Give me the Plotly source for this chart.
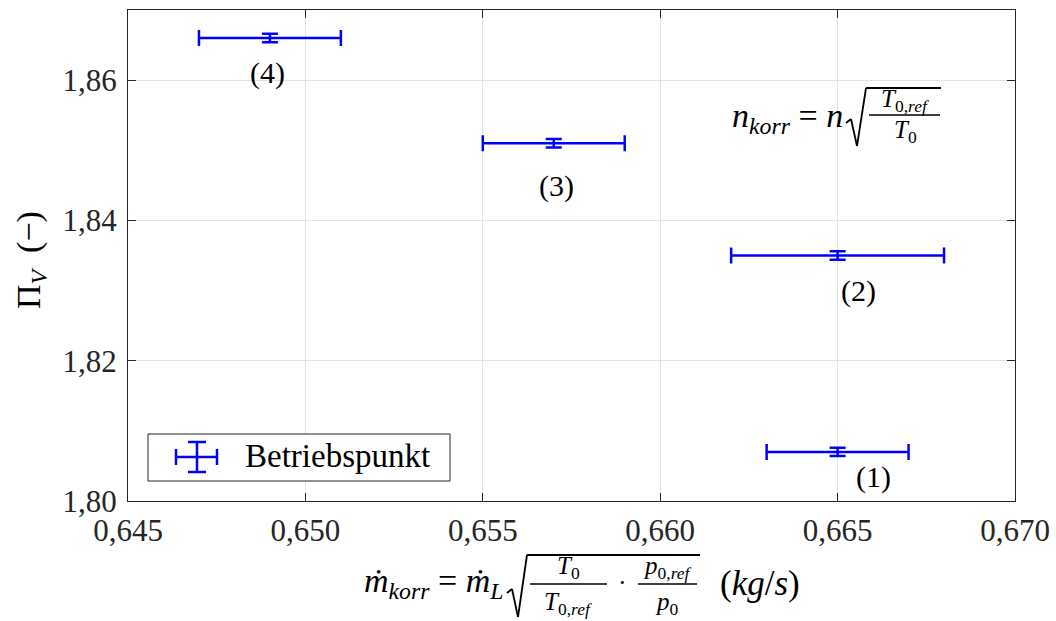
import plotly.graph_objects as go

# ---- data ----
m_korr = [0.665, 0.665, 0.657, 0.649]
pi_v = [1.807, 1.835, 1.851, 1.866]
err_m = [0.002, 0.003, 0.002, 0.002]
err_pi = [0.0006, 0.0006, 0.0006, 0.0006]
point_labels = ["(1)", "(2)", "(3)", "(4)"]
label_dx = [36, 21, 3, -2]
label_dy = [-25, -35, -43, -35]
x_ticks = [0.645, 0.650, 0.655, 0.660, 0.665, 0.670]
y_ticks = [1.80, 1.82, 1.84, 1.86]

W, H = 1056, 621
L, R, T, B = 128, 41, 10, 120
PW, PH = W - L - R, H - T - B
FONT = "'Liberation Serif', 'DejaVu Serif', serif"
BLUE = "#0000ff"
DARK = "#262626"


def px(x):
    return (x - L) / PW


def py(y):
    return (H - B - y) / PH


fig = go.Figure()
fig.add_trace(go.Scatter(
    x=m_korr, y=pi_v, mode="markers",
    marker=dict(size=1, color=BLUE, opacity=0),
    error_x=dict(type="data", array=err_m, color=BLUE, thickness=2.5, width=8),
    error_y=dict(type="data", array=err_pi, color=BLUE, thickness=2.5, width=8),
    showlegend=False, hoverinfo="x+y",
))

ann = []
for x, y, t, dx, dy in zip(m_korr, pi_v, point_labels, label_dx, label_dy):
    ann.append(dict(x=x, y=y, xref="x", yref="y", text=t, showarrow=False,
                    xshift=dx, yshift=dy, font=dict(family=FONT, size=30, color="black")))


def txt(x, y, s, size=28, anchor="center", angle=0):
    ann.append(dict(x=px(x), y=py(y), xref="paper", yref="paper", text=s, showarrow=False,
                    xanchor=anchor, yanchor="middle", textangle=angle,
                    font=dict(family=FONT, size=size, color="black")))


shapes = []


def line(x0, y0, x1, y1, w=1.6, c="black"):
    shapes.append(dict(type="line", xref="paper", yref="paper", x0=px(x0), y0=py(y0),
                       x1=px(x1), y1=py(y1), line=dict(color=c, width=w)))


def radical(x0, ymid, ybot, ytop, xend):
    pts = [(x0, ymid + 3), (x0 + 5, ymid - 1), (x0 + 11, ybot), (x0 + 20, ytop), (xend, ytop)]
    for (a, b), (c, d) in zip(pts[:-1], pts[1:]):
        line(a, b, c, d, w=1.8)


# n_korr formula
txt(845, 118, "<i>n</i><sub><i>korr</i></sub> = <i>n</i>", 34, "right")
radical(846, 120, 146, 88, 941)
line(869, 115, 940, 115)
txt(905, 100, "<i>T</i><sub>0,<i>ref</i></sub>", 25)
txt(905, 132, "<i>T</i><sub>0</sub>", 25)

# x axis label
txt(506, 583, "<i>ṁ</i><sub><i>korr</i></sub> = <i>ṁ</i><sub><i>L</i></sub>", 34, "right")
radical(507, 590, 617, 555, 700)
line(530, 584, 607, 584)
txt(568, 567, "<i>T</i><sub>0</sub>", 25)
txt(568, 603, "<i>T</i><sub>0,<i>ref</i></sub>", 25)
txt(622, 582, "·", 26)
line(638, 584, 697, 584)
txt(667, 567, "<i>p</i><sub>0,<i>ref</i></sub>", 25)
txt(667, 603, "<i>p</i><sub>0</sub>", 25)
txt(760, 583, "(<i>kg</i>/<i>s</i>)", 35)

# y axis label
txt(31, 260, "Π<sub><i>V</i></sub>  (−)", 34, angle=-90)

# legend box
shapes.append(dict(type="rect", xref="paper", yref="paper", x0=px(148), y0=py(481),
                   x1=px(450), y1=py(434), line=dict(color=DARK, width=1), fillcolor="white",
                   layer="above"))
line(176, 457, 217, 457, 2.5, BLUE)
line(197, 442, 197, 472, 2.5, BLUE)
line(176, 449, 176, 465, 2.5, BLUE)
line(217, 449, 217, 465, 2.5, BLUE)
line(188, 442, 206, 442, 2.5, BLUE)
line(188, 472, 206, 472, 2.5, BLUE)
txt(243, 456, "Betriebspunkt", 33, "left")

axis_common = dict(
    showline=True, linecolor=DARK, linewidth=1, mirror="ticks",
    ticks="inside", ticklen=8, tickcolor=DARK, tickwidth=1,
    showgrid=True, gridcolor="#e3e3e3", gridwidth=1, zeroline=False,
    automargin=False,
    tickfont=dict(family=FONT, size=31, color=DARK),
)

fig.update_layout(
    width=W, height=H, margin=dict(l=L, r=R, t=T, b=B),
    paper_bgcolor="white", plot_bgcolor="white",
    separators=",.",
    font=dict(family=FONT),
    xaxis=dict(range=[0.645, 0.670], tickvals=x_ticks, tickformat=".3f",
               ticklabelstandoff=2, **axis_common),
    yaxis=dict(range=[1.80, 1.87], tickvals=y_ticks, tickformat=".2f",
               ticklabelstandoff=4, **axis_common),
    annotations=ann, shapes=shapes, showlegend=False,
)

fig.write_html("out.html")
